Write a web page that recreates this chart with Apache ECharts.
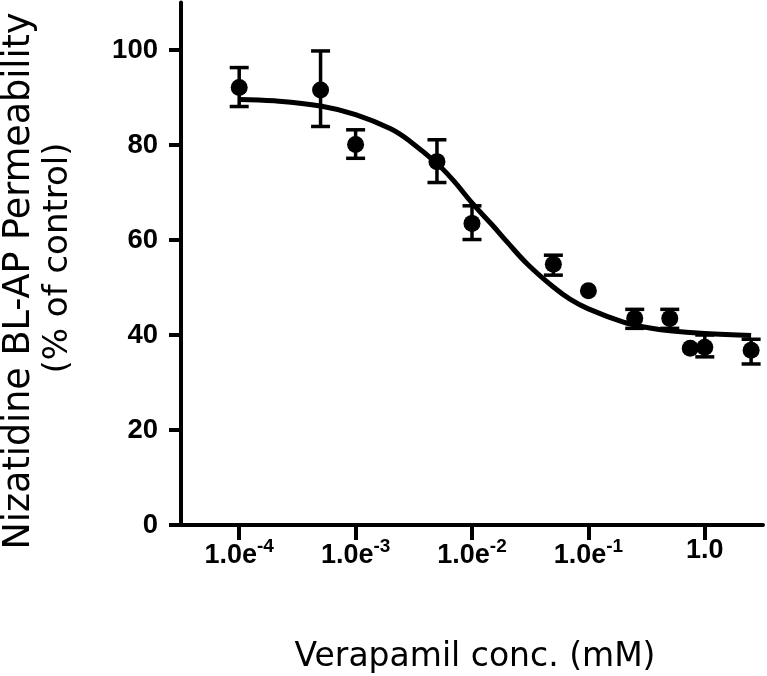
<!DOCTYPE html>
<html>
<head>
<meta charset="utf-8">
<script src="https://cdn.jsdelivr.net/npm/echarts@6/dist/echarts.min.js"></script>
<style>html,body{margin:0;padding:0;background:#fff;}#c{width:767px;height:676px;}</style>
</head>
<body>
<div id="c"></div>
<script>
// Measured points (Verapamil conc. in mM, % of control)
const pointConc = [1e-4, 5e-4, 1e-3, 5e-3, 1e-2, 5e-2, 1e-1, 2.5e-1, 5e-1, 7.5e-1, 1, 2.5];
const pointMean = [92.1, 91.6, 80.1, 76.5, 63.5, 54.9, 49.3, 43.5, 43.5, 37.2, 37.4, 36.8];
const errLow    = [88.1, 83.9, 77.2, 72.1, 60.1, 52.6, null, 41.4, 41.4, null, 35.4, 33.9];
const errHigh   = [96.3, 99.8, 83.2, 81.1, 67.2, 56.8, null, 45.4, 45.4, null, 40.0, 39.1];
// Fitted curve
const curveConc  = [1e-4, 2e-4, 5e-4, 1e-3, 2e-3, 3e-3, 5e-3, 7e-3, 1e-2, 1.5e-2, 2e-2, 3e-2, 5e-2, 7e-2, 1e-1, 2e-1, 3e-1, 5e-1, 1, 2.5];
const curveValue = [89.6, 89.3, 88.2, 86.4, 83.4, 80.6, 76.1, 72.4, 67.8, 63.1, 59.6, 54.9, 50.1, 47.5, 45.5, 42.7, 41.7, 40.9, 40.3, 39.9];
// Axis ticks
const xTickExp = [-4, -3, -2, -1, 0];
const yTicks = [0, 20, 40, 60, 80, 100];

const lg = v => Math.log10(v);
const chart = echarts.init(document.getElementById('c'), null, {renderer: 'canvas'});

const errData = [];
pointConc.forEach((c, i) => {
  if (errLow[i] != null) errData.push([lg(c), errLow[i], errHigh[i]]);
});

chart.setOption({
  animation: false,
  backgroundColor: '#fff',
  grid: {left: 181, width: 582, top: 2.5, height: 522.5, containLabel: false},
  xAxis: {
    type: 'value', min: -4.5, max: 0.5, interval: 0.5,
    splitLine: {show: false},
    axisLine: {show: true, onZero: false, lineStyle: {color: '#000', width: 4}},
    axisTick: {show: true, customValues: xTickExp, length: 15, lineStyle: {color: '#000', width: 4}},
    axisLabel: {
      customValues: xTickExp, margin: 12, color: '#000',
      formatter: v => {
        const e = Math.round(v);
        if (e === 0) return '{b|1.0}';
        return '{b|1.0e}{s|' + e + '}';
      },
      rich: {
        b: {fontFamily: 'Liberation Sans', fontWeight: 'bold', fontSize: 27, color: '#000'},
        s: {fontFamily: 'Liberation Sans', fontWeight: 'bold', fontSize: 19, color: '#000', padding: [0, 0, 18, 0]}
      }
    }
  },
  yAxis: {
    type: 'value', min: 0, max: 110, interval: 10,
    splitLine: {show: false},
    axisLine: {show: true, onZero: false, lineStyle: {color: '#000', width: 4}},
    axisTick: {show: true, customValues: yTicks, length: 12, lineStyle: {color: '#000', width: 4}},
    axisLabel: {
      customValues: yTicks, margin: 23, color: '#000',
      fontFamily: 'Liberation Sans', fontWeight: 'bold', fontSize: 27.5
    }
  },
  series: [
    {
      type: 'line', data: curveConc.map((c, i) => [lg(c), curveValue[i]]),
      smooth: 0.4, showSymbol: false, symbol: 'none',
      lineStyle: {color: '#000', width: 5}, z: 2
    },
    {
      type: 'custom', data: errData, z: 3,
      renderItem: (params, api) => {
        const x = api.value(0);
        const lo = api.coord([x, api.value(1)]);
        const hi = api.coord([x, api.value(2)]);
        const hw = 9.5;
        const st = {stroke: '#000', lineWidth: 3.5};
        return {type: 'group', children: [
          {type: 'line', shape: {x1: lo[0], y1: lo[1], x2: hi[0], y2: hi[1]}, style: st},
          {type: 'line', shape: {x1: lo[0] - hw, y1: lo[1], x2: lo[0] + hw, y2: lo[1]}, style: st},
          {type: 'line', shape: {x1: hi[0] - hw, y1: hi[1], x2: hi[0] + hw, y2: hi[1]}, style: st}
        ]};
      }
    },
    {
      type: 'scatter', data: pointConc.map((c, i) => [lg(c), pointMean[i]]),
      symbol: 'circle', symbolSize: 17, itemStyle: {color: '#000', opacity: 1}, z: 4
    }
  ],
  graphic: [
    {type: 'text', x: 475, y: 657,
      style: {text: 'Verapamil conc. (mM)', fontFamily: 'DejaVu Sans', fontSize: 33, fill: '#000', align: 'center', verticalAlign: 'middle'}},
    {type: 'text', x: 20, y: 281, rotation: Math.PI / 2,
      style: {text: 'Nizatidine BL-AP Permeability', fontFamily: 'DejaVu Sans', fontSize: 36.5, fill: '#000', align: 'center', verticalAlign: 'middle'}},
    {type: 'text', x: 58, y: 258, rotation: Math.PI / 2,
      style: {text: '(% of control)', fontFamily: 'DejaVu Sans', fontSize: 34, fill: '#000', align: 'center', verticalAlign: 'middle'}}
  ]
});
</script>
</body>
</html>
